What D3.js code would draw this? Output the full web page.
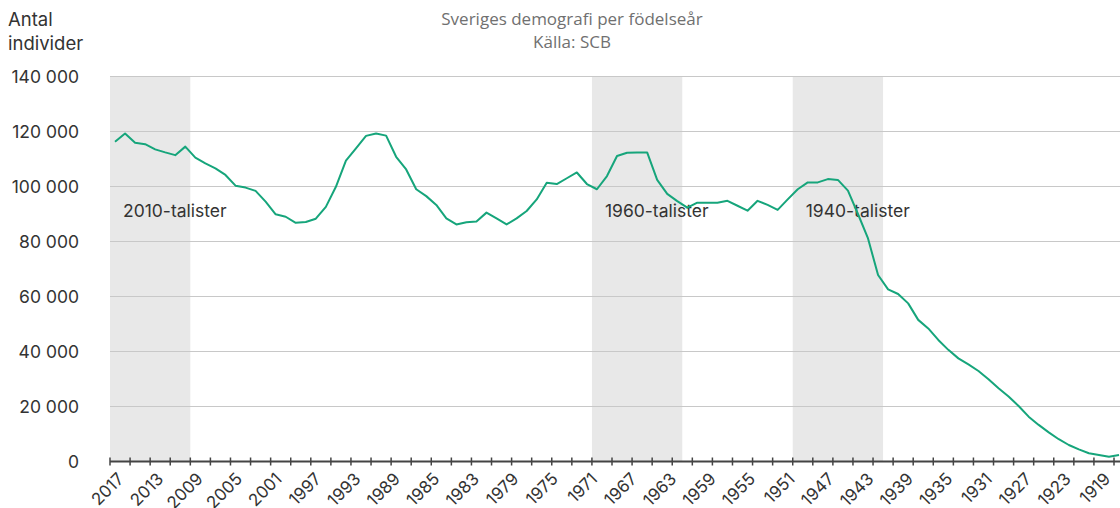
<!DOCTYPE html>
<html>
<head>
<meta charset="utf-8">
<script src="https://cdn.jsdelivr.net/npm/d3@7"></script>
<style>
    body { margin: 0; background: #fff; }
    svg { display: block; font-family: Inter, "Open Sans", sans-serif; }
</style>
</head>
<body>
<div id="chart"></div>
<script>
// ============================================================================
// data
// ============================================================================

// birth years, newest first (last one is the oldest group)
const years = d3.range(2017, 1916, -1);

// number of people per birth year
const population = [
    116300, 119300, 115900, 115400, 113500, 112400, 111400, 114500, 110500, 108400,
    106600, 104200, 100300,  99600,  98400,  94500,  89900,  89000,  86800,  87100,
     88300,  92600,  99900, 109400, 113900, 118400, 119300, 118500, 110800, 106200,
     99000,  96500,  93300,  88400,  86200,  87000,  87300,  90500,  88400,  86200,
     88400,  91100,  95300, 101400, 100900, 103000, 105100, 100900,  99000, 103800,
    111100, 112300, 112400, 112400, 102400,  97300,  94700,  92300,  94100,  94100,
     94100,  94800,  93000,  91200,  94800,  93300,  91500,  95300,  99000, 101500,
    101500, 102700, 102400,  98500,  90000,  81100,  67800,  62600,  60900,  57500,
     51500,  48400,  44200,  40600,  37500,  35300,  32900,  29900,  26600,  23600,
     20200,  16300,  13300,  10600,   8100,   6000,   4400,   3000,   2400,   1700,
      2400
];

// x axis labels, as printed on the chart
const tickLabels = [
    "2017", "2013", "2009", "2005", "2001", "1997", "1993", "1989", "1985", "1983",
    "1979", "1975", "1971", "1967", "1963", "1959", "1955", "1951", "1947", "1943",
    "1939", "1935", "1931", "1927", "1923", "1919"
];

// highlighted decades
const decadeNames = ["2010-talister", "1960-talister", "1940-talister"];
const decadeFrom = [2017.5, 1969.5, 1949.5];
const decadeTo = [2009.5, 1960.5, 1940.5];

const yTicks = [0, 20000, 40000, 60000, 80000, 100000, 120000, 140000];

// ============================================================================
// chart
// ============================================================================

const width = 1120;
const height = 508;
const textColor = "#333";

const svg = d3.select("#chart")
    .append("svg")
    .attr("width", width)
    .attr("height", height);

const x = d3.scaleLinear()
    .domain([2017.5, 1917.5])
    .range([110, 1114]);

const y = d3.scaleLinear()
    .domain([0, 140000])
    .range([461.5, 76.5]);

const fmt = d3.formatLocale({ decimal: ",", thousands: " ", grouping: [3], currency: ["", " kr"] }).format(",d");

// decade bands
svg.append("g")
    .selectAll("rect")
    .data(decadeNames)
    .join("rect")
    .attr("x", (d, i) => x(decadeFrom[i]))
    .attr("width", (d, i) => x(decadeTo[i]) - x(decadeFrom[i]))
    .attr("y", y(140000))
    .attr("height", y(0) - y(140000))
    .attr("fill", "#e8e8e8");

// grid lines
svg.append("g")
    .attr("stroke", "#c8c8c8")
    .attr("stroke-width", 1)
    .selectAll("line")
    .data(yTicks.slice(1))
    .join("line")
    .attr("x1", 110)
    .attr("x2", width)
    .attr("y1", d => y(d))
    .attr("y2", d => y(d));

// y labels
svg.append("g")
    .attr("fill", textColor)
    .attr("font-size", 17.5)
    .attr("text-anchor", "end")
    .selectAll("text")
    .data(yTicks)
    .join("text")
    .attr("x", 79)
    .attr("y", d => y(d))
    .attr("dy", "0.35em")
    .text(d => fmt(d));

// band labels
svg.append("g")
    .attr("fill", textColor)
    .attr("font-size", 17.5)
    .selectAll("text")
    .data(decadeNames)
    .join("text")
    .attr("x", (d, i) => x(decadeFrom[i]) + 13)
    .attr("y", 217)
    .text(d => d);

// x axis line and ticks, one tick every second year
const tickYears = d3.range(2017.5, 1916, -2);

svg.append("line")
    .attr("x1", 110)
    .attr("x2", width)
    .attr("y1", y(0))
    .attr("y2", y(0))
    .attr("stroke", "#444")
    .attr("stroke-width", 2);

svg.append("g")
    .attr("stroke", "#444")
    .attr("stroke-width", 1.5)
    .selectAll("line")
    .data(tickYears)
    .join("line")
    .attr("x1", d => x(d))
    .attr("x2", d => x(d))
    .attr("y1", y(0) - 4)
    .attr("y2", y(0) + 4);

// x labels, every fourth category
const labelStep = 3.93;

svg.append("g")
    .attr("fill", textColor)
    .attr("font-size", 17)
    .attr("text-anchor", "end")
    .selectAll("text")
    .data(tickLabels)
    .join("text")
    .attr("transform", (d, i) => `translate(${x(2017 - i * labelStep) + 10},480) rotate(-45)`)
    .text(d => d);

// the line
const line = d3.line()
    .x((d, i) => x(years[i]))
    .y(d => y(d));

svg.append("path")
    .datum(population)
    .attr("fill", "none")
    .attr("stroke", "#16a57b")
    .attr("stroke-width", 2)
    .attr("stroke-linejoin", "round")
    .attr("d", line);

// titles
svg.append("text")
    .attr("x", 572)
    .attr("y", 25)
    .attr("text-anchor", "middle")
    .attr("fill", "#707070")
    .attr("font-family", "'Open Sans', sans-serif")
    .attr("font-size", 17)
    .text("Sveriges demografi per födelseår");

svg.append("text")
    .attr("x", 572)
    .attr("y", 48)
    .attr("text-anchor", "middle")
    .attr("fill", "#707070")
    .attr("font-family", "'Open Sans', sans-serif")
    .attr("font-size", 17)
    .text("Källa: SCB");

svg.append("text")
    .attr("x", 8)
    .attr("y", 26)
    .attr("fill", textColor)
    .attr("font-size", 18.5)
    .text("Antal");

svg.append("text")
    .attr("x", 8)
    .attr("y", 50)
    .attr("fill", textColor)
    .attr("font-size", 18.5)
    .text("individer");
</script>
</body>
</html>
